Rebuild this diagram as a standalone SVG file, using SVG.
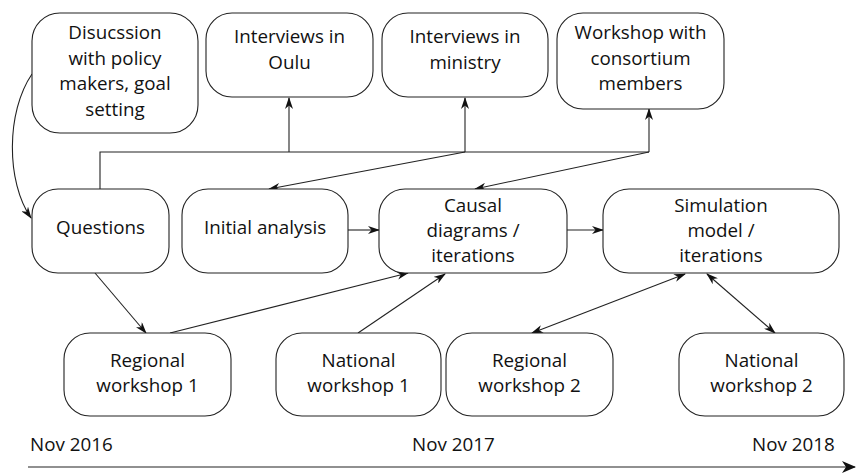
<svg xmlns="http://www.w3.org/2000/svg" width="856" height="476" viewBox="0 0 856 476">
<style>
.n rect{fill:#fff;stroke:#222;stroke-width:1.1}
text{font-family:"Open Sans","Liberation Sans",sans-serif;font-size:18.8px;fill:#111;text-anchor:middle}
.c path{fill:none;stroke:#222;stroke-width:1.1}
.t{text-anchor:start}
</style>
<defs>
<marker id="a" markerUnits="userSpaceOnUse" markerWidth="12" markerHeight="8" refX="11" refY="4" orient="auto-start-reverse" viewBox="0 0 12 8">
<path d="M0,0 L12,4 L0,8 L3.5,4 z" fill="#111"/>
</marker>
<marker id="b" markerUnits="userSpaceOnUse" markerWidth="14" markerHeight="12" refX="13" refY="6" orient="auto" viewBox="0 0 14 12">
<path d="M0,0 L14,6 L0,12 L4,6 z" fill="#111"/>
</marker>
</defs>
<g class="c">
<path d="M32,74 C6,112 6,182 31,218" marker-end="url(#a)"/>
<path d="M100,189 V152 H649"/>
<path d="M289,152 V98" marker-end="url(#a)"/>
<path d="M465,152 V98" marker-end="url(#a)"/>
<path d="M649,152 V109" marker-end="url(#a)"/>
<path d="M465,152 L269,189" marker-end="url(#a)"/>
<path d="M649,152 L475,189" marker-end="url(#a)"/>
<path d="M348,230 H379" marker-end="url(#a)"/>
<path d="M567,230 H603" marker-end="url(#a)"/>
<path d="M95,273 L146,333" marker-end="url(#a)"/>
<path d="M170,333 L408,273" marker-end="url(#a)"/>
<path d="M358,333 L445,274" marker-end="url(#a)"/>
<path d="M532,333 L685,274" marker-start="url(#a)" marker-end="url(#a)"/>
<path d="M707,274 L775,333" marker-start="url(#a)" marker-end="url(#a)"/>
<path d="M28,467 H855" stroke-width="2.8" marker-end="url(#b)"/>
</g>
<g id="n1" class="n"><rect x="32" y="13" width="166" height="120" rx="28"/><text x="115" y="39">Disucssion</text><text x="115" y="64.5">with policy</text><text x="115" y="90">makers, goal</text><text x="115" y="115.5">setting</text></g>
<g id="n2" class="n"><rect x="206" y="13" width="167" height="84" rx="26"/><text x="289.5" y="43">Interviews in</text><text x="289.5" y="69">Oulu</text></g>
<g id="n3" class="n"><rect x="382" y="13" width="166" height="84" rx="26"/><text x="465" y="43">Interviews in</text><text x="465" y="69">ministry</text></g>
<g id="n4" class="n"><rect x="557" y="13" width="167" height="96" rx="26"/><text x="640.5" y="39">Workshop with</text><text x="640.5" y="65">consortium</text><text x="640.5" y="90">members</text></g>
<g id="n5" class="n"><rect x="32" y="189" width="137" height="84" rx="26"/><text x="100.5" y="234">Questions</text></g>
<g id="n6" class="n"><rect x="182" y="189" width="166" height="84" rx="26"/><text x="265" y="234">Initial analysis</text></g>
<g id="n7" class="n"><rect x="379" y="189" width="188" height="84" rx="26"/><text x="473" y="212">Causal</text><text x="473" y="237">diagrams /</text><text x="473" y="262">iterations</text></g>
<g id="n8" class="n"><rect x="603" y="189" width="236" height="84" rx="26"/><text x="721" y="212">Simulation</text><text x="721" y="237">model /</text><text x="721" y="262">iterations</text></g>
<g id="n9" class="n"><rect x="64" y="333" width="167" height="83" rx="26"/><text x="147.5" y="367">Regional</text><text x="147.5" y="392">workshop 1</text></g>
<g id="n10" class="n"><rect x="276" y="333" width="165" height="83" rx="26"/><text x="358.5" y="367">National</text><text x="358.5" y="392">workshop 1</text></g>
<g id="n11" class="n"><rect x="446" y="333" width="167" height="83" rx="26"/><text x="529.5" y="367">Regional</text><text x="529.5" y="392">workshop 2</text></g>
<g id="n12" class="n"><rect x="679" y="333" width="165" height="83" rx="26"/><text x="761.5" y="367">National</text><text x="761.5" y="392">workshop 2</text></g>
<g id="timeline">
<text class="t" x="30" y="451">Nov 2016</text>
<text class="t" x="412" y="451">Nov 2017</text>
<text class="t" x="752" y="451">Nov 2018</text>
</g>
</svg>
